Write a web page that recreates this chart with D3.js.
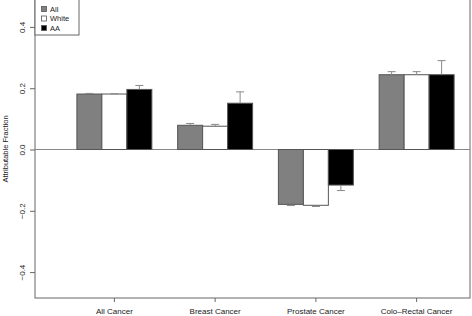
<!DOCTYPE html>
<html><head><meta charset="utf-8">
<script src="https://cdn.jsdelivr.net/npm/d3@7"></script>
<style>body{margin:0;background:#fff}svg{display:block;font-family:"Liberation Sans",Arial,sans-serif}</style>
</head><body><svg id="c" width="472" height="316"></svg>
<script>
const categories = ["All Cancer","Breast Cancer","Prostate Cancer","Colo\u2013Rectal Cancer"];
const series = ["All","White","AA"];
const colors = ["#808080","#ffffff","#000000"];
const valAll   = [0.181, 0.079, -0.179, 0.244];
const valWhite = [0.181, 0.076, -0.182, 0.244];
const valAA    = [0.196, 0.151, -0.116, 0.244];
const errAll   = [0.002, 0.006, 0.004, 0.010];
const errWhite = [0.001, 0.006, 0.004, 0.010];
const errAA    = [0.013, 0.037, 0.018, 0.046];
const yTicks = [-0.4,-0.2,0.0,0.2,0.4];
const yTickLabels = ["\u22120.4","\u22120.2","0.0","0.2","0.4"];

const values = [valAll, valWhite, valAA];
const errs = [errAll, errWhite, errAA];

const svg = d3.select("#c");
const L = 35, R = 470, T = -1, B = 298;
const y = d3.scaleLinear().domain([-0.4845, 0.4878]).range([B, 0]);
const x0 = d3.scaleBand().domain(categories).range([64, 467]).paddingInner(0.256).paddingOuter(0.128);
const x1 = d3.scaleBand().domain(series).range([0, x0.bandwidth()]);

// box
svg.append("rect").attr("x", L).attr("y", T).attr("width", R - L).attr("height", B - T)
  .attr("fill", "none").attr("stroke", "#666").attr("stroke-width", 1);

// zero line
svg.append("line").attr("x1", L).attr("x2", R).attr("y1", y(0)).attr("y2", y(0))
  .attr("stroke", "#888").attr("stroke-width", 1);

// bars
categories.forEach((c, ci) => {
  series.forEach((s, si) => {
    const v = values[si][ci];
    const bx = x0(c) + x1(s);
    svg.append("rect").attr("x", bx).attr("width", x1.bandwidth())
      .attr("y", y(Math.max(0, v))).attr("height", Math.abs(y(v) - y(0)))
      .attr("fill", colors[si]).attr("stroke", "#555").attr("stroke-width", 1);
  });
});
// error bars
categories.forEach((c, ci) => {
  series.forEach((s, si) => {
    const v = values[si][ci], e = errs[si][ci];
    const cx = x0(c) + x1(s) + x1.bandwidth() / 2;
    const end = v >= 0 ? v + e : v - e;
    const g = svg.append("g").attr("stroke", "#888").attr("stroke-width", 1);
    g.append("line").attr("x1", cx).attr("x2", cx).attr("y1", y(v)).attr("y2", y(end));
    g.append("line").attr("x1", cx - 4).attr("x2", cx + 4).attr("y1", y(end)).attr("y2", y(end));
  });
});

// y axis
const ya = svg.append("g").attr("transform", `translate(${L},0)`)
  .call(d3.axisLeft(y).tickValues(yTicks).tickSize(5).tickFormat((d, i) => yTickLabels[i]));
ya.select(".domain").remove();
ya.selectAll("line").attr("stroke", "#666");
ya.selectAll(".tick text").attr("x", null).attr("y", 0).attr("dy", "0")
  .style("font-size", "8px").attr("fill", "#222").attr("text-anchor", "middle")
  .attr("transform", "translate(-10.5,0) rotate(-90)");

// x axis
const xa = svg.append("g").attr("transform", `translate(0,${B})`)
  .call(d3.axisBottom(x0).tickSize(4).tickPadding(6));
xa.select(".domain").remove();
xa.selectAll("line").attr("stroke", "#666");
xa.selectAll("text").style("font-size", "8px").attr("fill", "#222");

// y title
svg.append("text").attr("transform", `translate(8,${B / 2}) rotate(-90)`)
  .attr("text-anchor", "middle").style("font-size", "7.5px").attr("fill", "#222")
  .text("Attributable Fraction");

// legend
const lg = svg.append("g");
lg.append("rect").attr("x", L).attr("y", -1).attr("width", 44).attr("height", 36)
  .attr("fill", "#fff").attr("stroke", "#666");
series.forEach((s, i) => {
  const yy = 9 + i * 9.5;
  lg.append("rect").attr("x", 41.5).attr("y", yy - 2.5).attr("width", 5).attr("height", 5)
    .attr("fill", colors[i]).attr("stroke", "#555").attr("stroke-width", 0.8);
  lg.append("text").attr("x", 50).attr("y", yy).attr("dy", "0.35em")
    .style("font-size", "7.5px").attr("fill", "#222").text(s);
});
</script></body></html>
